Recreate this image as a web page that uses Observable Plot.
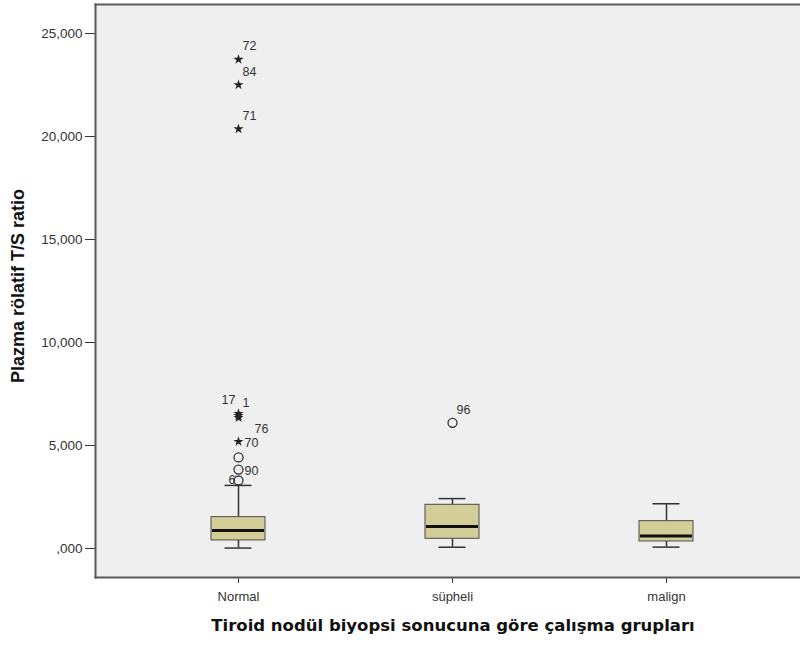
<!DOCTYPE html>
<html>
<head>
<meta charset="utf-8">
<script src="https://cdn.jsdelivr.net/npm/d3@7"></script>
<script src="https://cdn.jsdelivr.net/npm/@observablehq/plot@0.6"></script>
<style>
  html, body { margin: 0; padding: 0; background: #fff; }
</style>
</head>
<body>
<div id="chart"></div>
<script>
// Study groups by thyroid nodule biopsy result
const groups = ["Normal", "süpheli", "malign"];

// Box-plot summaries of plasma relative T/S ratio per group
const whiskerLow  = [0.02, 0.06, 0.065];
const quartile1   = [0.39, 0.47, 0.34];
const medians     = [0.87, 1.07, 0.60];
const quartile3   = [1.52, 2.12, 1.325];
const whiskerHigh = [3.06, 2.42, 2.17];

// Individual outlying cases (case number, group, value, type, label side)
const outlierGroup = ["Normal", "Normal", "Normal", "Normal", "Normal", "Normal", "Normal", "Normal", "Normal", "Normal", "süpheli"];
const outlierCase  = ["72", "84", "71", "17", "1", "76", "70", "", "90", "6", "96"];
const outlierValue = [23.74, 22.51, 20.37, 6.55, 6.45, 6.35, 5.19, 4.42, 3.83, 3.30, 6.10];
const outlierKind  = ["extreme", "extreme", "extreme", "extreme", "extreme", "extreme", "extreme", "outlier", "outlier", "outlier", "outlier"];
const outlierSide  = ["ne", "ne", "ne", "nw", "ne", "se", "e", "", "e", "w", "ne"];

// Y axis ticks
const yTicks = [0, 5, 10, 15, 20, 25];

const stats = groups.map((g, i) => ({
  group: g,
  lo: whiskerLow[i],
  q1: quartile1[i],
  med: medians[i],
  q3: quartile3[i],
  hi: whiskerHigh[i]
}));

const outliers = outlierValue.map((v, i) => ({
  group: outlierGroup[i],
  id: outlierCase[i],
  value: v,
  kind: outlierKind[i],
  side: outlierSide[i]
}));

// Decimal comma with the leading zero dropped: ",000", "5,000", ...
const fmt = d => d.toFixed(3).replace(".", ",").replace(/^0,/, ",");

// Where each case-number label sits relative to its marker
const placement = {
  ne: {dx: 4, dy: -13, textAnchor: "start"},
  nw: {dx: -3, dy: -14, textAnchor: "end"},
  e:  {dx: 6, dy: 1, textAnchor: "start"},
  w:  {dx: -3, dy: 0, textAnchor: "end"},
  se: {dx: 16, dy: 11, textAnchor: "start"}
};

const labelMarks = Object.entries(placement).map(([side, p]) =>
  Plot.text(outliers.filter(d => d.side === side && d.id), {
    x: "group", y: "value", text: "id",
    dx: p.dx, dy: p.dy, textAnchor: p.textAnchor,
    fontSize: 12.5, fill: "#333"
  })
);

const chart = Plot.plot({
  width: 800,
  height: 646,
  marginLeft: 95,
  marginRight: 0,
  marginTop: 4,
  marginBottom: 69,
  style: {
    fontFamily: "'Liberation Sans', Arial, sans-serif",
    fontSize: "12px",
    background: "#fff"
  },
  x: {
    type: "band",
    domain: groups,
    range: [95, 809],
    paddingInner: 0.748,
    paddingOuter: 0.542
  },
  y: {
    domain: [-1.41, 26.41]
  },
  marks: [
    // plot area background
    Plot.frame({fill: "#efefef", stroke: null}),
    // whiskers
    Plot.ruleX(stats, {x: "group", y1: "lo", y2: "q1", stroke: "#333", strokeWidth: 1.5}),
    Plot.ruleX(stats, {x: "group", y1: "q3", y2: "hi", stroke: "#333", strokeWidth: 1.5}),
    // whisker caps
    Plot.tickY(stats, {x: "group", y: "lo", stroke: "#333", strokeWidth: 1.5, insetLeft: 13.5, insetRight: 13.5}),
    Plot.tickY(stats, {x: "group", y: "hi", stroke: "#333", strokeWidth: 1.5, insetLeft: 13.5, insetRight: 13.5}),
    // interquartile boxes
    Plot.barY(stats, {x: "group", y1: "q1", y2: "q3", fill: "#d3ce97", stroke: "#4a4a4a", strokeWidth: 1}),
    // medians
    Plot.tickY(stats, {x: "group", y: "med", stroke: "#111", strokeWidth: 3, insetLeft: 1, insetRight: 1}),
    // outliers (circles) and extreme values (stars)
    Plot.dot(outliers.filter(d => d.kind === "outlier"), {
      x: "group", y: "value", symbol: "circle", r: 4.5,
      stroke: "#333", strokeWidth: 1.3, fill: "none"
    }),
    Plot.dot(outliers.filter(d => d.kind === "extreme"), {
      x: "group", y: "value", symbol: "star", r: 3.2,
      fill: "#222", stroke: null
    }),
    ...labelMarks,
    // axes
    Plot.axisY({
      ticks: yTicks, tickFormat: fmt, tickSize: 10, tickPadding: 3,
      fontSize: 13.5, color: "#333", label: null
    }),
    Plot.axisX({
      tickSize: 6, tickPadding: 8, fontSize: 13, color: "#333", label: null
    }),
    // frame border on top, left and bottom
    Plot.frame({anchor: "top", stroke: "#5a5a5a", strokeWidth: 2}),
    Plot.frame({anchor: "left", stroke: "#5a5a5a", strokeWidth: 2}),
    Plot.frame({anchor: "bottom", stroke: "#5a5a5a", strokeWidth: 2}),
    // axis titles
    Plot.text(["Plazma rölatif T/S ratio"], {
      frameAnchor: "left", textAnchor: "middle", rotate: -90, dx: -77, dy: -5,
      fontSize: 18, fontWeight: "bold", fill: "#111"
    }),
    Plot.text(["Tiroid nodül biyopsi sonucuna göre çalışma grupları"], {
      frameAnchor: "bottom", dx: 5, dy: 53,
      fontSize: 16.5, fontWeight: "bold", fill: "#111",
      fontFamily: "'DejaVu Sans', Verdana, sans-serif"
    })
  ]
});

document.getElementById("chart").appendChild(chart);
</script>
</body>
</html>
